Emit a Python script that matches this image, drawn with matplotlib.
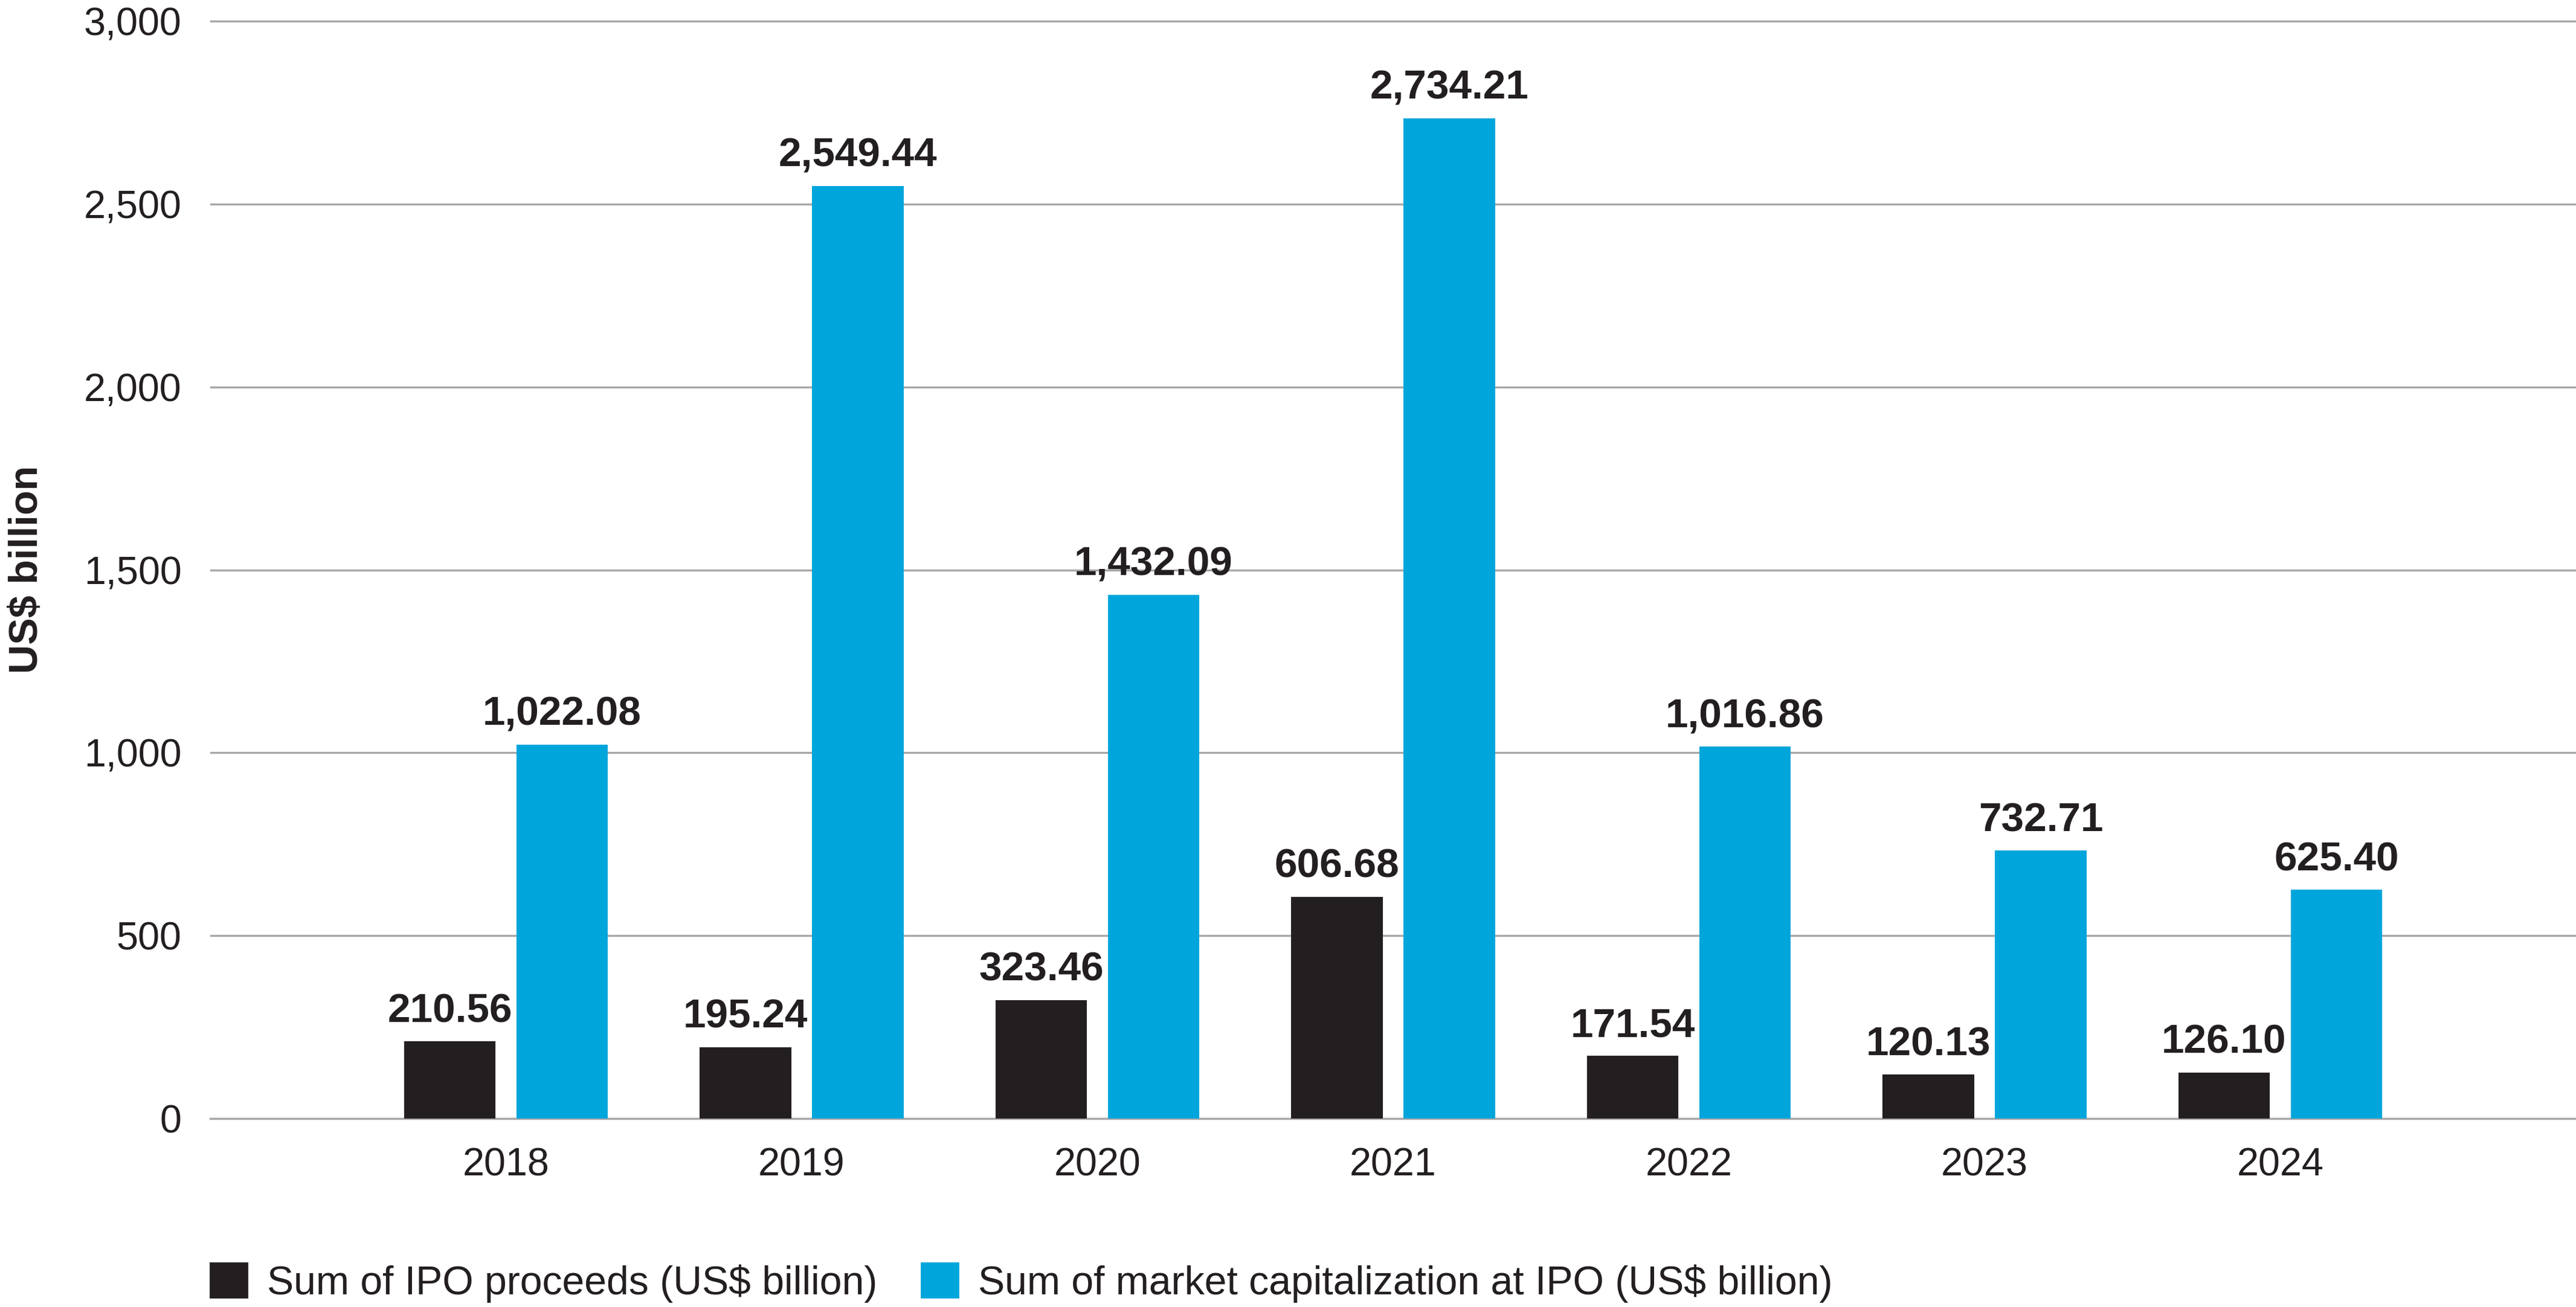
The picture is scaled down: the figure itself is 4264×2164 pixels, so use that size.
import matplotlib
matplotlib.use("Agg")
import matplotlib.pyplot as plt
from matplotlib.patches import Patch
import numpy as np

plt.rcParams['font.family'] = ['Liberation Sans', 'DejaVu Sans']

# Data
years = ["2018", "2019", "2020", "2021", "2022", "2023", "2024"]
ipo_proceeds = [210.56, 195.24, 323.46, 606.68, 171.54, 120.13, 126.10]
market_cap = [1022.08, 2549.44, 1432.09, 2734.21, 1016.86, 732.71, 625.40]
y_ticks = [0, 500, 1000, 1500, 2000, 2500, 3000]

BLACK = "#231f20"
BLUE = "#00a6db"
GRID = "#a7a7a9"

fig = plt.figure(figsize=(21.32, 10.82), dpi=200)
ax = fig.add_axes([0.0816, 0.1442, 0.9184, 0.8452])

x = np.arange(len(years))
w = 0.31
off = 0.19
b1 = ax.bar(x - off, ipo_proceeds, w, color=BLACK, zorder=3)
b2 = ax.bar(x + off, market_cap, w, color=BLUE, zorder=3)

# value labels above bars
for bars, vals in [(b1, ipo_proceeds), (b2, market_cap)]:
    for rect, v in zip(bars, vals):
        ax.annotate(f"{v:,.2f}", (rect.get_x() + rect.get_width() / 2, v),
                    xytext=(0, 6.5), textcoords="offset points",
                    ha="center", va="bottom", fontsize=24.3, fontweight="bold",
                    color=BLACK)

ax.set_xlim(-1, 7)
ax.set_ylim(0, 3020)
ax.set_xticks(x)
ax.set_xticklabels(years)
ax.set_yticks(y_ticks)
ax.set_yticklabels([f"{t:,}" for t in y_ticks])
ax.tick_params(axis="both", length=0, labelsize=23.3, colors=BLACK)
ax.tick_params(axis="x", pad=17)
ax.tick_params(axis="y", pad=17)

ax.grid(axis="y", color=GRID, linewidth=1.2, zorder=0)
for s in ["top", "right", "left"]:
    ax.spines[s].set_visible(False)
ax.spines["bottom"].set_color(GRID)
ax.spines["bottom"].set_linewidth(1.2)

fig.text(0.0106, 0.5642, "US$ billion", rotation=90, ha="center", va="center",
         fontsize=24, fontweight="bold", color=BLACK)

handles = [Patch(color=BLACK, label="Sum of IPO proceeds (US$ billion)"),
           Patch(color=BLUE, label="Sum of market capitalization at IPO (US$ billion)")]
fig.legend(handles=handles, loc="center left", bbox_to_anchor=(0.0816, 0.0185),
           ncol=2, frameon=False, fontsize=23.8, handlelength=0.92, handleheight=0.95,
           handletextpad=0.5, columnspacing=1.1, borderaxespad=0, borderpad=0,
           labelcolor=BLACK)

fig.savefig("out.png", dpi=200)
